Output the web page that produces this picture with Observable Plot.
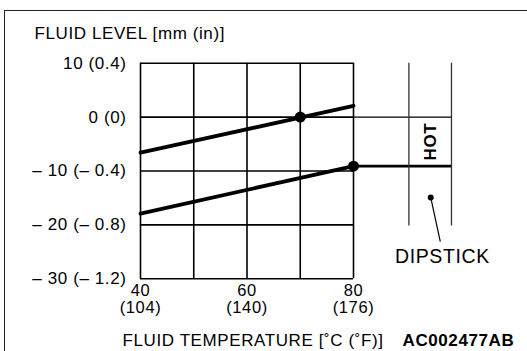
<!DOCTYPE html>
<html>
<head>
<meta charset="utf-8">
<script src="https://cdn.jsdelivr.net/npm/d3@7"></script>
<script src="https://cdn.jsdelivr.net/npm/@observablehq/plot@0.6"></script>
<style>
  html, body { margin: 0; padding: 0; background: #fff; overflow: hidden; }
  #wrap { position: relative; width: 527px; height: 351px; overflow: hidden; }
  #border { position: absolute; left: 4px; top: 10px; width: 700px; height: 500px; border: 1.6px solid #222; pointer-events: none; }
  svg { display: block; }
</style>
</head>
<body>
<div id="wrap"><div id="chart"></div><div id="border"></div></div>
<script>
// Data
const temps = [40, 80];
const upperLevel = [-6.6, 2.1];
const lowerLevel = [-17.9, -9.1];
const markTemps = [70, 80];
const markLevels = [0, -9.1];
const gridTemps = [40, 50, 60, 70, 80];
const gridLevels = [10, 0, -10, -20, -30];
const yTickLabels = ["10 (0.4)", "0 (0)", "– 10 (– 0.4)", "– 20 (– 0.8)", "– 30 (– 1.2)"];
const xTicks = [40, 60, 80];
const xTickLabelsC = ["40", "60", "80"];
const xTickLabelsF = ["(104)", "(140)", "(176)"];
const dipstickX = [90.4, 98.4];
const dipstickLevels = [10, -20.2];
const hotLevels = [0, -9.1];
const pointerFrom = {x: 94.5, y: -14.9};
const pointerTo = {x: 96.3, y: -23.1};
const dipstickLabelPos = {x: 96.7, y: -27};
const yTitle = "FLUID LEVEL [mm (in)]";
const xTitle = "FLUID TEMPERATURE [˚C (˚F)]";
const figCode = "AC002477AB";

const upper = temps.map((t, i) => ({t, v: upperLevel[i]}));
const lower = temps.map((t, i) => ({t, v: lowerLevel[i]}));
const markers = markTemps.map((t, i) => ({t, v: markLevels[i]}));

const chart = Plot.plot({
  width: 527,
  height: 351,
  marginLeft: 140,
  marginRight: 174,
  marginTop: 62.7,
  marginBottom: 72.7,
  x: {domain: [40, 80], axis: null},
  y: {domain: [-30, 10], axis: null},
  style: {fontFamily: "'Liberation Sans', Arial, sans-serif", fontSize: "17px", letterSpacing: "0.6px", background: "white", overflow: "visible", color: "black"},
  marks: [
    Plot.ruleX(gridTemps, {x: d => d, y1: -30, y2: 10, stroke: "black", strokeWidth: 1.6}),
    Plot.ruleY(gridLevels, {y: d => d, x1: 40, x2: 80, stroke: "black", strokeWidth: 1.6}),
    Plot.ruleY([hotLevels[0]], {y: d => d, x1: 80, x2: dipstickX[1], stroke: "black", strokeWidth: 1.4}),
    Plot.ruleY([hotLevels[1]], {y: d => d, x1: 80, x2: dipstickX[1], stroke: "black", strokeWidth: 2.6}),
    Plot.ruleX(dipstickX, {x: d => d, y1: dipstickLevels[1], y2: dipstickLevels[0], stroke: "#333", strokeWidth: 1.3}),
    Plot.line(upper, {x: "t", y: "v", stroke: "black", strokeWidth: 3.8}),
    Plot.line(lower, {x: "t", y: "v", stroke: "black", strokeWidth: 3.8}),
    Plot.dot(markers, {x: "t", y: "v", r: 5.5, fill: "black", stroke: null}),
    Plot.text(["HOT"], {x: (dipstickX[0] + dipstickX[1]) / 2, y: (hotLevels[0] + hotLevels[1]) / 2, rotate: -90, fontWeight: "bold", fontSize: 17, fill: "black"}),
    Plot.link([{}], {x1: () => pointerFrom.x, y1: () => pointerFrom.y, x2: () => pointerTo.x, y2: () => pointerTo.y, stroke: "black", strokeWidth: 1.2}),
    Plot.dot([pointerFrom], {x: "x", y: "y", r: 3, fill: "black", stroke: null}),
    Plot.text(["DIPSTICK"], {x: () => dipstickLabelPos.x, y: () => dipstickLabelPos.y, lineAnchor: "bottom", fontSize: 19.5, fill: "black"}),
    Plot.text(gridLevels, {x: 40, y: d => d, text: (d, i) => yTickLabels[i], textAnchor: "end", dx: -14, lineAnchor: "middle", fill: "black"}),
    Plot.text(xTicks, {x: d => d, y: -30, text: (d, i) => xTickLabelsC[i], lineAnchor: "bottom", dy: 17.5, fontSize: 16.5, fill: "black"}),
    Plot.text(xTicks, {x: d => d, y: -30, text: (d, i) => xTickLabelsF[i], lineAnchor: "bottom", dy: 34, fontSize: 16.5, fill: "black"}),
    Plot.text([yTitle], {frameAnchor: "top-left", dx: -106, dy: -24, lineAnchor: "bottom", textAnchor: "start", fill: "black"}),
    Plot.text([xTitle], {frameAnchor: "bottom-left", dx: -18, dy: 66.7, lineAnchor: "bottom", textAnchor: "start", fill: "black"}),
    Plot.text([figCode], {frameAnchor: "bottom-right", dx: 49, dy: 66.7, lineAnchor: "bottom", textAnchor: "start", fontWeight: "bold", fill: "black"})
  ]
});
document.getElementById("chart").appendChild(chart);
</script>
</body>
</html>
